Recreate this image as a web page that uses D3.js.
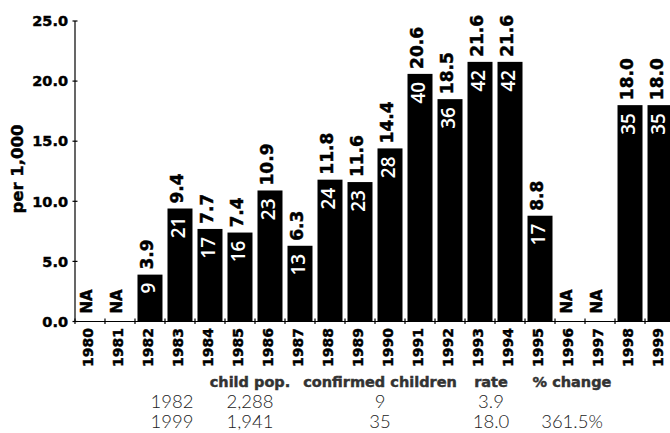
<!DOCTYPE html>
<html>
<head>
<meta charset="utf-8">
<script src="https://cdn.jsdelivr.net/npm/d3@7"></script>
<style>
  body { margin: 0; background: #fff; }
  svg { display: block; }
  text { font-family: "DejaVu Sans", sans-serif; font-weight: bold; }
  .heavy { stroke: #000; stroke-width: 0.45px; }
</style>
</head>
<body>
<div id="canvas"></div>
<script>
// chart values
var years = ['1980','1981','1982','1983','1984','1985','1986','1987','1988','1989',
             '1990','1991','1992','1993','1994','1995','1996','1997','1998','1999'];
var rates = [null,null,3.9,9.4,7.7,7.4,10.9,6.3,11.8,11.6,14.4,20.6,18.5,21.6,21.6,8.8,null,null,18.0,18.0];
var counts = [null,null,9,21,17,16,23,13,24,23,28,40,36,42,42,17,null,null,35,35];
var yTicks = [0,5,10,15,20,25];

// summary table under the chart
var tableHead = ['', 'child pop.', 'confirmed children', 'rate', '% change'];
var tableRows = [
  ['1982', '2,288', '9', '3.9', ''],
  ['1999', '1,941', '35', '18.0', '361.5%']
];

var W = 670, H = 433;
var m = {t:21, l:75};

var svg = d3.select('#canvas').append('svg')
    .attr('width', W).attr('height', H);

var data = years.map(function(y, i){
  return {year:y, rate:rates[i], count:counts[i]};
});

var x = d3.scaleBand().domain(years).range([m.l, m.l + 600])
    .paddingInner(0.167).paddingOuter(0.083);
var y = d3.scaleLinear().domain([0,25]).range([321.5, m.t]);

function cx(d){ return x(d) + x.bandwidth()/2 - 3; }

// y axis
var yAxis = svg.append('g');
yAxis.append('line')
  .attr('x1', m.l).attr('x2', m.l)
  .attr('y1', y(25)).attr('y2', y(0))
  .attr('stroke', '#000').attr('stroke-width', 1.2);
yAxis.selectAll('.yt').data(yTicks).enter().append('line')
  .attr('x1', m.l - 2.5).attr('x2', m.l + 2.5)
  .attr('y1', function(d){return y(d);}).attr('y2', function(d){return y(d);})
  .attr('stroke', '#000').attr('stroke-width', 1.2);
yAxis.selectAll('.yl').data(yTicks).enter().append('text')
  .attr('class', 'heavy')
  .attr('x', m.l - 7).attr('y', function(d){return y(d);})
  .attr('dy', '0.36em')
  .attr('text-anchor', 'end')
  .style('font-size', '14.5px')
  .text(function(d){return d3.format('.1f')(d);});

svg.append('text')
  .attr('class', 'heavy')
  .attr('transform', 'translate(17,169) rotate(-90)')
  .attr('dy', '0.36em')
  .attr('text-anchor', 'middle')
  .style('font-size', '16.5px')
  .text('per 1,000');

// x axis (ticks at category boundaries)
var xb = years.map(function(d){return x(d) - x.step()*x.paddingInner()/2;});
xb.push(m.l + 600);
var xAxis = svg.append('g');
xAxis.append('line')
  .attr('x1', m.l).attr('x2', W)
  .attr('y1', y(0)).attr('y2', y(0))
  .attr('stroke', '#000').attr('stroke-width', 1.2);
xAxis.selectAll('.xt').data(xb).enter().append('line')
  .attr('x1', function(d){return d;}).attr('x2', function(d){return d;})
  .attr('y1', y(0) - 3).attr('y2', y(0) + 2.5)
  .attr('stroke', '#000').attr('stroke-width', 1.2);
xAxis.selectAll('.xl').data(years).enter().append('text')
  .attr('class', 'heavy')
  .attr('transform', function(d){
    return 'translate(' + (cx(d) + 1) + ',' + (y(0) + 6.5) + ') rotate(-90)';
  })
  .attr('dy', '0.36em')
  .attr('text-anchor', 'end')
  .style('font-size', '14px')
  .text(function(d){return d;});

// bars, drawn over the axis line
svg.selectAll('.bar').data(data.filter(function(d){return d.rate!=null;}))
  .enter().append('rect').attr('class','bar')
  .attr('x', function(d){return x(d.year);})
  .attr('width', x.bandwidth())
  .attr('y', function(d){return y(d.rate);})
  .attr('height', function(d){return y(0) - y(d.rate) + 0.5;})
  .attr('fill', '#000');

// labels above bars
svg.selectAll('.val').data(data).enter().append('text')
  .attr('class', 'heavy')
  .attr('transform', function(d){
    var top = d.rate == null ? y(0) - 8 : y(d.rate) - 5;
    return 'translate(' + cx(d.year) + ',' + top + ') rotate(-90)';
  })
  .attr('dy', '0.36em')
  .attr('text-anchor', 'start')
  .style('font-size', function(d){return d.rate == null ? '15px' : '17px';})
  .text(function(d){return d.rate == null ? 'NA' : d3.format('.1f')(d.rate);});

// counts inside bars
svg.selectAll('.cnt').data(data.filter(function(d){return d.count!=null;}))
  .enter().append('text')
  .attr('transform', function(d){
    return 'translate(' + (cx(d.year) + 1) + ',' + (y(d.rate) + 8) + ') rotate(-90)';
  })
  .attr('dy', '0.36em')
  .attr('text-anchor', 'end')
  .attr('fill', '#fff')
  .style('font-family', '"Open Sans", sans-serif')
  .style('font-weight', 600)
  .style('font-size', '19px')
  .text(function(d){return d.count;});

// table
var colX = [172, 250, 380, 491, 572];
var tbl = svg.append('g');
tbl.selectAll('.th').data(tableHead).enter().append('text')
  .attr('x', function(d, i){return colX[i];}).attr('y', 387)
  .attr('text-anchor', 'middle')
  .attr('fill', '#333')
  .style('stroke', '#333').style('stroke-width', '0.45px')
  .style('font-size', '14.5px')
  .text(function(d){return d;});
tableRows.forEach(function(row, r){
  tbl.selectAll('.tr' + r).data(row).enter().append('text')
    .attr('x', function(d, i){return colX[i];}).attr('y', 408 + r*20)
    .attr('text-anchor', 'middle')
    .attr('fill', '#222')
    .style('font-family', 'Lato, sans-serif')
    .style('font-size', '18.5px').style('font-weight', 300)
    .text(function(d){return d;});
});
</script>
</body>
</html>
